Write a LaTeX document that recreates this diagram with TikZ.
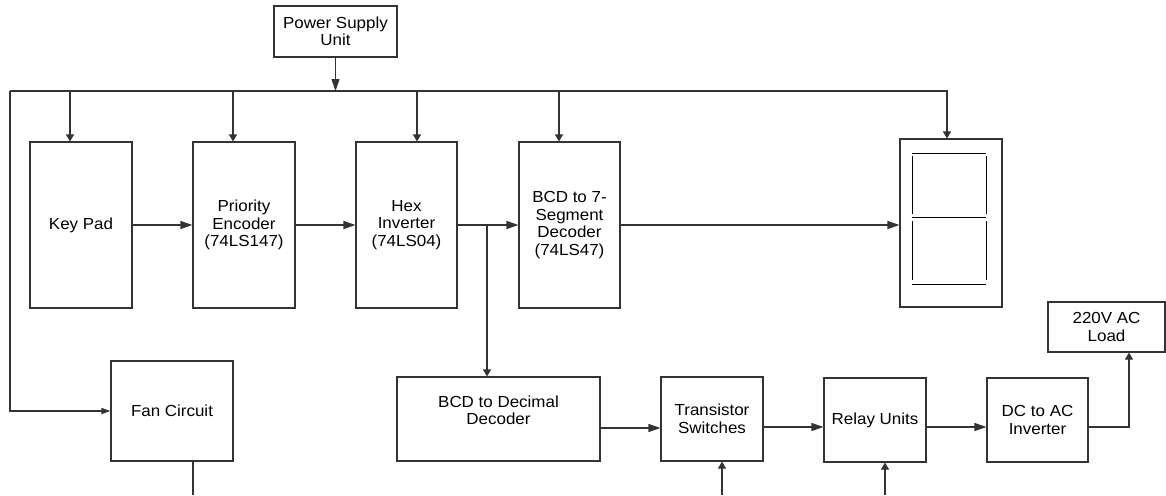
\documentclass[tikz,border=0pt]{standalone}
\usepackage{fontspec}
\setmainfont{Liberation Sans}[FakeStretch=1.06]
\usetikzlibrary{arrows.meta,calc}
\begin{document}
\begin{tikzpicture}[x=1pt,y=-1pt,
  line/.style={draw=black!80, line width=1.1pt},
  box/.style={line, rectangle, inner sep=0pt, align=center, font=\fontsize{16}{17.5}\selectfont},
  txt/.style={inner sep=0pt, align=center, font=\fontsize{16}{17.5}\selectfont},
  big/.style={line, -{Triangle[length=12pt,width=8pt]}},
  small/.style={line, -{Triangle[length=7pt,width=8pt]}},
  fanarr/.style={line, -{Triangle[length=9pt,width=6pt]}},
  seg/.style={draw=black, line width=1pt},
]
\useasboundingbox (0,0) rectangle (1166,495);

% boxes
\node[box, minimum width=123pt, minimum height=51pt] (psu) at (335.5,31.5) {Power Supply\\Unit};
\node[box, minimum width=102pt, minimum height=166pt] (kp) at (81,225) {Key Pad};
\node[box, minimum width=102pt, minimum height=166pt] (pe) at (244,225) {Priority\\Encoder\\(74LS147)};
\node[box, minimum width=101pt, minimum height=166pt] (hi) at (406.5,225) {Hex\\Inverter\\(74LS04)};
\node[box, minimum width=101pt, minimum height=166pt] (bcd7) at (569.5,225) {BCD to 7-\\Segment\\Decoder\\(74LS47)};
\node[box, minimum width=102pt, minimum height=168pt] (disp) at (951,223) {};
\node[box, minimum width=203pt, minimum height=84pt] (bcdd) at (498.5,419) {};
\node[txt] (bcddt) at (498.5,410.5) {BCD to Decimal\\Decoder};
\node[box, minimum width=102pt, minimum height=84pt] (ts) at (712,419) {Transistor\\Switches};
\node[box, minimum width=102pt, minimum height=84pt] (ru) at (875,420) {Relay Units};
\node[box, minimum width=101pt, minimum height=84pt] (dca) at (1037.5,420) {DC to AC\\Inverter};
\node[box, minimum width=117pt, minimum height=50pt] (load) at (1106.5,327) {220V AC\\Load};
\node[box, minimum width=122pt, minimum height=100pt] (fan) at (172,411) {Fan Circuit};

% seven segment glyph
\draw[seg] (912,153) -- (986,153);
\draw[seg] (912,217) -- (986,217);
\draw[seg] (912,284) -- (986,284);
\draw[seg] (912,156) -- (912,214);
\draw[seg] (912,221) -- (912,280);
\draw[seg] (986,156) -- (986,214);
\draw[seg] (986,221) -- (986,280);

% power bus
\coordinate (b0) at (10,91);
\coordinate (b1) at (70,91);
\coordinate (b2) at (233,91);
\coordinate (b3) at (417,91);
\coordinate (b4) at (559,91);
\coordinate (bend) at (947,91);
\draw[big] (psu.south) -- (psu.south |- b0);
\draw[small] (b0) -- (bend) -- (bend |- disp.north);
\draw[small] (b1) -- (b1 |- kp.north);
\draw[small] (b2) -- (b2 |- pe.north);
\draw[small] (b3) -- (b3 |- hi.north);
\draw[small] (b4) -- (b4 |- bcd7.north);
\draw[fanarr] (b0) |- (fan.west);

% signal chain
\draw[big] (kp.east) -- (pe.west);
\draw[big] (pe.east) -- (hi.west);
\draw[big] (hi.east) -- (bcd7.west);
\draw[big] (bcd7.east) -- (bcd7.east -| disp.west);
\coordinate (br) at (487,225);
\draw[small] (br) -- (br |- bcdd.north);

% lower chain
\coordinate (r) at (0,428);
\coordinate (r2) at (0,427);
\draw[big] (bcdd.east |- r) -- (ts.west |- r);
\draw[big] (ts.east |- r2) -- (ru.west |- r2);
\draw[big] (ru.east |- r2) -- (dca.west |- r2);
\coordinate (ld) at (1129,427);
\draw[small] (dca.east |- ld) -- (ld) -- (ld |- load.south);

% bottom stubs
\coordinate (tsb) at (722,495);
\coordinate (rub) at (885,495);
\coordinate (fb) at (193,495);
\draw[small] (tsb) -- (tsb |- ts.south);
\draw[small] (rub) -- (rub |- ru.south);
\draw[line] (fb |- fan.south) -- (fb);
\end{tikzpicture}
\end{document}
